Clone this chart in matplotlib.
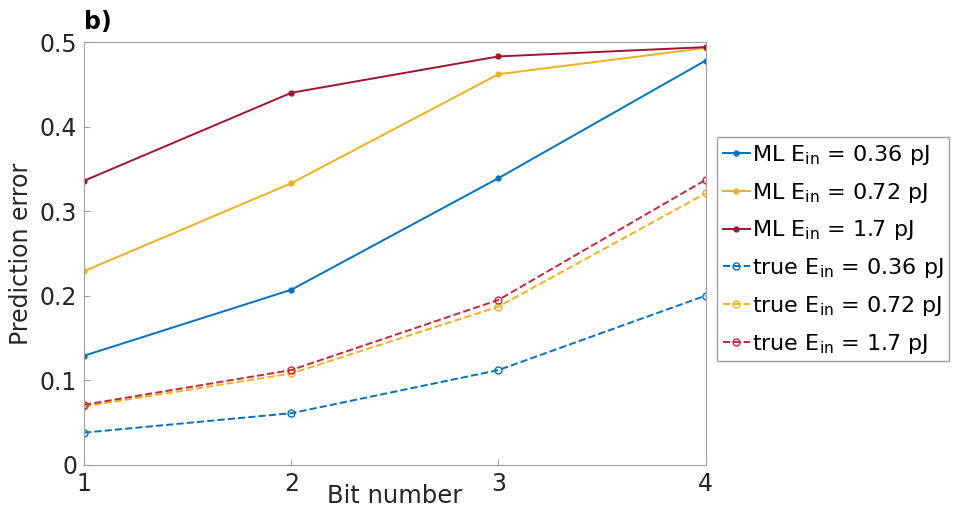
import matplotlib.pyplot as plt
import numpy as np

bits = [1, 2, 3, 4]

ml_036 = [0.129, 0.207, 0.339, 0.478]
ml_072 = [0.229, 0.333, 0.462, 0.493]
ml_17 = [0.336, 0.440, 0.483, 0.494]
true_036 = [0.038, 0.061, 0.112, 0.200]
true_072 = [0.069, 0.108, 0.187, 0.321]
true_17 = [0.071, 0.112, 0.195, 0.337]

labels = ["ML E$_{\\mathregular{in}}$ = 0.36 pJ", "ML E$_{\\mathregular{in}}$ = 0.72 pJ",
          "ML E$_{\\mathregular{in}}$ = 1.7 pJ", "true E$_{\\mathregular{in}}$ = 0.36 pJ",
          "true E$_{\\mathregular{in}}$ = 0.72 pJ", "true E$_{\\mathregular{in}}$ = 1.7 pJ"]

blue = "#0072BD"
yellow = "#EDB120"
red = "#A2142F"

plt.rcParams['font.family'] = 'DejaVu Sans'
fig = plt.figure(figsize=(9.56, 5.13), dpi=100)
ax = fig.add_axes([0.088, 0.094, 0.650, 0.824])

ax.plot(bits, ml_036, '-', color=blue, marker='.', ms=7, lw=1.4, label=labels[0])
ax.plot(bits, ml_072, '-', color=yellow, marker='.', ms=7, lw=1.4, label=labels[1])
ax.plot(bits, ml_17, '-', color=red, marker='.', ms=7, lw=1.4, label=labels[2])
ax.plot(bits, true_036, '--', color=blue, marker='o', mfc='none', ms=5, lw=1.4, label=labels[3])
ax.plot(bits, true_072, '--', color=yellow, marker='o', mfc='none', ms=5, lw=1.4, label=labels[4])
ax.plot(bits, true_17, '--', color="#C0283C", marker='o', mfc='none', ms=5, lw=1.4, label=labels[5])

ax.set_xlim(1, 4)
ax.set_ylim(0, 0.5)
ax.set_xticks(bits)
ax.set_yticks([0, 0.1, 0.2, 0.3, 0.4, 0.5])
ax.set_yticklabels(["0", "0.1", "0.2", "0.3", "0.4", "0.5"])
ax.tick_params(labelsize=17, colors="#262626", direction='in', length=4, pad=5)
for s in ax.spines.values():
    s.set_color("#A0A0A0")
ax.tick_params(axis='both', color="#A0A0A0")
ax.set_xlabel("Bit number", fontsize=17.5, color="#262626")
ax.xaxis.set_label_coords(0.5, -0.045)
ax.set_ylabel("Prediction error", fontsize=17, color="#262626")
ax.yaxis.set_label_coords(-0.083, 0.5)
ax.text(0.0, 1.02, "b)", transform=ax.transAxes, fontsize=17, fontweight='bold', va='bottom')

leg = ax.legend(loc='upper left', bbox_to_anchor=(1.019, 0.775), fontsize=16, handlelength=1.2,
                handletextpad=0.1, labelspacing=0.62, borderpad=0.25, fancybox=False,
                framealpha=1, edgecolor="#A0A0A0", borderaxespad=0)

fig.savefig("out.png", dpi=100)
